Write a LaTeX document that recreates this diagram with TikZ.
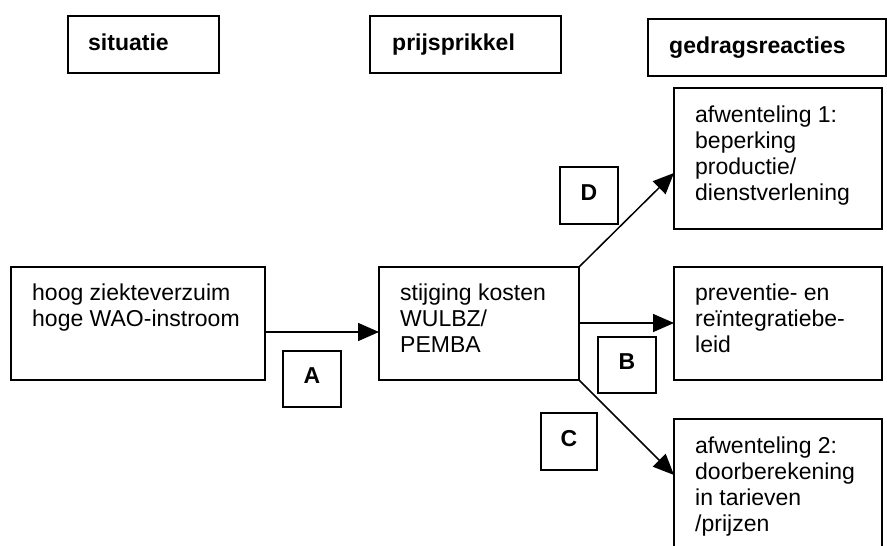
\documentclass[tikz,border=0pt]{standalone}
\usepackage{fontspec}
\setmainfont{Liberation Sans}
\usetikzlibrary{arrows.meta}
\begin{document}
\begin{tikzpicture}[x=1pt,y=-1pt,
  box/.style={draw, line width=1.9pt, inner sep=0pt, outer sep=0pt, rectangle, anchor=north west},
  txt/.style={anchor=base west, inner sep=0pt, font=\fontsize{23}{26}\selectfont},
  hdr/.style={anchor=base west, inner sep=0pt, font=\fontsize{23}{26}\selectfont\bfseries},
  lbl/.style={inner sep=0pt, font=\fontsize{23}{26}\selectfont\bfseries},
  conn/.style={line width=1.5pt, -{Triangle[length=21pt,width=18pt]}}]
\useasboundingbox (0,0) rectangle (887,546);
% header boxes
\node[box, minimum width=151pt, minimum height=57pt] (hs) at (68,16) {};
\node[box, minimum width=191pt, minimum height=57pt] (hp) at (370,16) {};
\node[box, minimum width=238pt, minimum height=57pt] (hg) at (648,19) {};
\node[hdr] (ths) at (88,50) {situatie};
\node[hdr] (thp) at (392,50) {prijsprikkel};
\node[hdr] (thg) at (669,53) {gedragsreacties};
% main boxes
\node[box, minimum width=254pt, minimum height=113pt] (sit) at (11,267) {};
\node[box, minimum width=200pt, minimum height=113pt] (stij) at (379,267) {};
\node[box, minimum width=208pt, minimum height=141pt] (r1) at (674,88) {};
\node[box, minimum width=208pt, minimum height=113pt] (r2) at (674,267) {};
\node[box, minimum width=208pt, minimum height=141pt] (r3) at (674,419) {};
\node[txt] (tsit) at (32,300) {\begin{tabular}[t]{@{}l@{}}hoog ziekteverzuim\\hoge WAO-instroom\end{tabular}};
\node[txt] (tstij) at (400,300) {\begin{tabular}[t]{@{}l@{}}stijging kosten\\WULBZ/\\PEMBA\end{tabular}};
\node[txt] (tr1) at (695,122) {\begin{tabular}[t]{@{}l@{}}afwenteling 1:\\beperking\\productie/\\dienstverlening\end{tabular}};
\node[txt] (tr2) at (695,300) {\begin{tabular}[t]{@{}l@{}}preventie- en\\reïntegratiebe-\\leid\end{tabular}};
\node[txt] (tr3) at (695,453) {\begin{tabular}[t]{@{}l@{}}afwenteling 2:\\doorberekening\\in tarieven\\/prijzen\end{tabular}};
% letter boxes
\node[box, minimum width=58pt, minimum height=56pt] (bA) at (283,351) {};
\node[box, minimum width=58pt, minimum height=56pt] (bB) at (598,337) {};
\node[box, minimum width=56pt, minimum height=57pt] (bC) at (541,413) {};
\node[box, minimum width=58pt, minimum height=57pt] (bD) at (560,167) {};
\node[lbl] (lA) at ([yshift=3pt]bA.center) {A};
\node[lbl] (lB) at ([yshift=3pt]bB.center) {B};
\node[lbl] (lC) at ([yshift=3pt]bC.center) {C};
\node[lbl] (lD) at ([yshift=3pt]bD.center) {D};
% connectors
\coordinate (yA) at (0,332);
\coordinate (yB) at (0,323);
\coordinate (yC) at (0,475);
\coordinate (yD) at (0,173);
\draw[conn] (sit.east |- yA) -- (stij.west |- yA);
\draw[conn] (stij.north east) -- (r1.west |- yD);
\draw[conn] (stij.east |- yB) -- (r2.west |- yB);
\draw[conn] (stij.south east) -- (r3.west |- yC);
\end{tikzpicture}
\end{document}
